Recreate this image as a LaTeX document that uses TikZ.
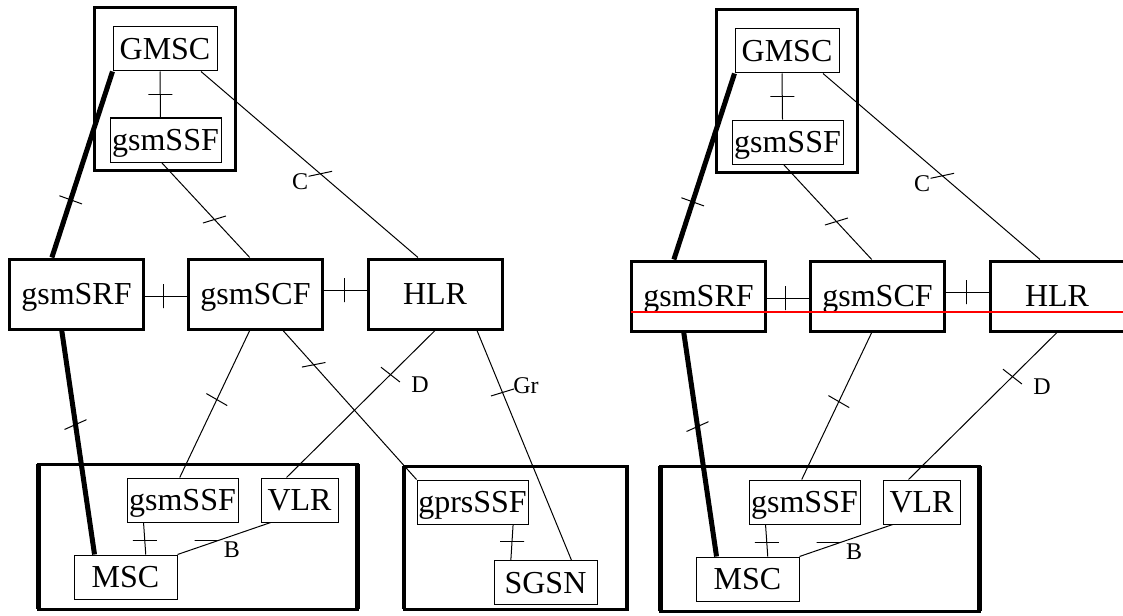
\documentclass[tikz,border=0pt]{standalone}
\usepackage{fontspec}
\setmainfont{Liberation Serif}

\tikzset{
  fe/.style={draw, line width=0.5pt, inner sep=0pt, minimum height=22pt, text depth=0pt, font=\fontsize{16}{18}\selectfont},
  fbig/.style={fe, line width=1.5pt, minimum width=67pt, minimum height=35pt},
  tick/.style={draw, line width=0.5pt, inner sep=0pt, outer sep=0pt, minimum width=12pt, minimum height=0pt},
  lbl/.style={inner sep=0pt, font=\fontsize{12}{14}\selectfont},
  link/.style={line width=0.5pt},
  trunk/.style={line width=2.5pt},
  frame/.style={line width=1.5pt}
}

\begin{document}
\begin{tikzpicture}[x=0.5pt, y=-0.5pt]
  \useasboundingbox (0,0) rectangle (1123,615);
  \clip (0,0) rectangle (1123,615);
  % left network
  \draw[frame] (94,8) rectangle (235,170);
  \draw[frame] (38,464) rectangle (357,609);
  \draw[line width=2.5pt] (38,464) -- (38,609) (357,464) -- (357,609);
  \draw[frame] (404,466) rectangle (627,609);
  \draw[line width=2pt] (404,466) -- (404,609) (627,466) -- (627,609);
  \node[fe, minimum width=52pt] (lGMSC) at (165,49) {GMSC};
  \node[fe, minimum width=55.5pt] (lSSF) at (165.5,140) {gsmSSF};
  \node[fbig] (lSRF) at (76.5,294) {gsmSRF};
  \node[fbig] (lSCF) at (255.5,294) {gsmSCF};
  \node[fbig] (lHLR) at (435,294) {HLR};
  \node[fe, minimum width=55.5pt] (lSSFb) at (182.5,500) {gsmSSF};
  \node[fe, minimum width=38.5pt] (lVLR) at (299.5,500) {VLR};
  \node[fe, minimum width=51.5pt] (lMSC) at (125.5,577) {MSC};
  \node[fe, minimum width=55.5pt] (lGPRS) at (472.5,502) {gprsSSF};
  \node[fe, minimum width=51.5pt] (lSGSN) at (545.5,582.5) {SGSN};
  \draw[link] ([xshift=-2.5pt]lGMSC.south) -- node[tick] {} ([xshift=-2.5pt]lSSF.north);
  \draw[trunk] (lGMSC.south west) -- node[tick, pos=.69, rotate=-20] {} (lSRF.124);
  \draw[link] (lGMSC.-32) -- node[tick, pos=.55, rotate=12] {} (lHLR.115);
  \draw[link] (lSSF.-100) -- node[tick, pos=.6, rotate=17] {} (lSCF.99);
  \draw[link] ([yshift=-1pt]lSRF.east) -- node[tick, pos=.44, rotate=90] {} ([yshift=-1pt]lSCF.west);
  \draw[link] ([yshift=2pt]lSCF.east) -- node[tick, pos=.48, rotate=90] {} ([yshift=2pt]lHLR.west);
  \draw[trunk] (lSRF.-112) -- node[tick, pos=.42, rotate=24] {} (lMSC.144);
  \draw[link] (lSCF.-99) -- node[tick, pos=.47, rotate=-30] {} (lSSFb.97);
  \draw[link] (lSCF.-53) -- node[tick, pos=.23, rotate=11] {} (lGPRS.north west);
  \draw[link] (lHLR.south) -- node[tick, pos=.3, rotate=-38] {} (lVLR.120);
  \draw[link] (lHLR.-41) -- node[tick, pos=.27, rotate=17] {} (lSGSN.41);
  \draw[link] (lSSFb.-150) -- node[tick, pos=.55] {} (lMSC.48);
  \draw[link] (lMSC.north east) -- node[tick, pos=.44, anchor=east] {} (lVLR.-142);
  \draw[link] (lGPRS.-29) -- node[tick, pos=.49] {} (lSGSN.147);
  \node[lbl] (lC) at (300,182) {C};
  \node[lbl] (lD) at (420,385) {D};
  \node[lbl] (lGr) at (526,386) {Gr};
  \node[lbl] (lB) at (232,550) {B};
  % right network
  \begin{scope}[shift={(622,2)}]
    \draw[frame] (94,8) rectangle (235,170);
    \draw[frame] (38,464) rectangle (357,609);
    \draw[line width=2.5pt] (38,464) -- (38,609) (357,464) -- (357,609);
    \node[fe, minimum width=52pt] (rGMSC) at (165,49) {GMSC};
    \node[fe, minimum width=55.5pt] (rSSF) at (165.5,140) {gsmSSF};
    \node[fbig] (rSRF) at (76.5,294) {gsmSRF};
    \node[fbig] (rSCF) at (255.5,294) {gsmSCF};
    \node[fbig] (rHLR) at (435,294) {HLR};
    \node[fe, minimum width=55.5pt] (rSSFb) at (182.5,500) {gsmSSF};
    \node[fe, minimum width=38.5pt] (rVLR) at (299.5,500) {VLR};
    \node[fe, minimum width=51.5pt] (rMSC) at (125.5,577) {MSC};
    \draw[link] ([xshift=-2.5pt]rGMSC.south) -- node[tick] {} ([xshift=-2.5pt]rSSF.north);
    \draw[trunk] (rGMSC.south west) -- node[tick, pos=.69, rotate=-20] {} (rSRF.124);
    \draw[link] (rGMSC.-32) -- node[tick, pos=.55, rotate=12] {} (rHLR.115);
    \draw[link] (rSSF.-100) -- node[tick, pos=.6, rotate=17] {} (rSCF.99);
    \draw[link] ([yshift=-1pt]rSRF.east) -- node[tick, pos=.44, rotate=90] {} ([yshift=-1pt]rSCF.west);
    \draw[link] ([yshift=2pt]rSCF.east) -- node[tick, pos=.48, rotate=90] {} ([yshift=2pt]rHLR.west);
    \draw[trunk] (rSRF.-112) -- node[tick, pos=.42, rotate=24] {} (rMSC.144);
    \draw[link] (rSCF.-99) -- node[tick, pos=.47, rotate=-30] {} (rSSFb.97);
    \draw[link] (rHLR.south) -- node[tick, pos=.3, rotate=-38] {} (rVLR.120);
    \draw[link] (rSSFb.-150) -- node[tick, pos=.55] {} (rMSC.48);
    \draw[link] (rMSC.north east) -- node[tick, pos=.44, anchor=east] {} (rVLR.-142);
    \node[lbl] (rC) at (300,182) {C};
    \node[lbl] (rD) at (420,385) {D};
    \node[lbl] (rB) at (232,550) {B};
  \end{scope}
  \draw[red, line width=0.75pt] (631,312) -- (1123,312);
\end{tikzpicture}
\end{document}
